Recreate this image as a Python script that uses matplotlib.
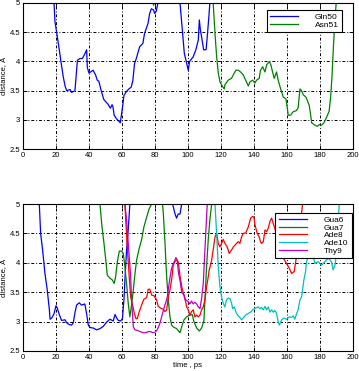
import numpy as np
import matplotlib
matplotlib.use("Agg")
import matplotlib.pyplot as plt

plt.rcParams['font.family'] = ['Liberation Sans', 'DejaVu Sans']

# ---- top panel: Gln50 / Asn51 ----
gln50_t = [0, 10, 15, 18.8, 19.4, 20.4, 22, 23, 24.4, 25.5, 26.5, 28.5, 29.5, 31.5, 32, 33,
           34.5, 36, 37.5, 38.6, 39, 40, 41.5, 42.5, 44, 45, 46, 47.5, 49, 50.5, 51.5, 53,
           54, 54.5, 55.3, 56.7, 58.3, 59, 59.8, 60.6, 61.2, 62.6, 64.2, 65.6, 66.6, 67.6,
           68.7, 70.7, 72.7, 73.7, 75.8, 76.8, 77.8, 79.2, 79.8, 80.8, 81.8, 83, 88, 94,
           95.2, 97.8, 99.2, 100.2, 101, 103.2, 104.8, 106.3, 106.9, 107.5, 108.3, 109.5,
           111, 111.7, 112.5, 113.3, 114.5, 120]
gln50_d = [7.5, 6.8, 5.8, 5.0, 4.68, 4.5, 4.2, 4.0, 3.74, 3.58, 3.5, 3.52, 3.47, 3.5, 3.67, 4.02,
           4.05, 4.05, 4.13, 4.2, 3.9, 3.8, 3.83, 3.85, 3.77, 3.68, 3.66, 3.49, 3.35, 3.3, 3.27, 3.2,
           3.26, 3.23, 3.08, 3.02, 2.97, 2.95, 3.11, 3.27, 3.42, 3.48, 3.53, 3.56, 3.67, 3.96,
           4.05, 4.25, 4.31, 4.48, 4.65, 4.82, 4.9, 4.88, 4.82, 4.86, 5.0, 5.3, 5.8, 5.3,
           5.0, 4.14, 3.97, 3.85, 4.0, 4.08, 4.2, 4.37, 4.71, 4.55, 4.42, 4.2,
           4.2, 4.42, 4.7, 5.0, 5.4, 6.5]

asn51_t = [0, 40, 70, 78.5, 79.2, 80, 90, 105, 114, 115.3, 116.4, 117.4, 118.4, 119.4, 121, 122,
           122.4, 124.4, 126.4, 127.5, 129.1, 130.5, 131.9, 133.5, 135, 136.6, 137.6, 139.2,
           140.6, 141.6, 143.2, 144, 145.3, 146.7, 147.7, 149.3, 150.3, 151.3, 152.3, 153.7,
           154.7, 156.2, 157.8, 159.4, 160.2, 160.8, 162.2, 163.8, 165.8, 166.8, 167.9, 168.9,
           169.9, 171.5, 172.3, 173.5, 174.3, 175, 177, 178.4, 179.6, 181, 182.4, 184, 185.6,
           186.5, 187.3, 188.1, 189.1, 190, 192]
asn51_d = [7.0, 6.5, 5.6, 5.05, 4.96, 5.05, 5.8, 6.0, 5.3, 5.0, 4.48, 4.08, 3.8, 3.65, 3.57, 3.53,
           3.6, 3.68, 3.71, 3.77, 3.85, 3.85, 3.82, 3.77, 3.68, 3.58, 3.65, 3.68,
           3.63, 3.68, 3.71, 3.85, 3.91, 3.82, 3.94, 4.0, 3.94, 3.82, 3.71, 3.82,
           3.68, 3.53, 3.39, 3.36, 3.21, 3.08, 3.08, 3.14, 3.16, 3.21, 3.53, 3.5,
           3.43, 3.39, 3.34, 3.25, 3.1, 2.95, 2.91, 2.89, 2.92, 2.91, 2.95, 3.04, 3.15,
           3.39, 3.73, 4.2, 4.71, 5.05, 5.6]

# ---- bottom panel: Gua6 / Gua7 / Ade8 / Ade10 / Thy9 ----
gua6_t = [0, 9.9, 10.7, 11.9, 13.3, 14.7, 16, 16.4, 17.4, 18.8, 20, 20.8, 22, 23.4, 25.5, 26.5,
          28, 29.5, 30.5, 31.5, 32.5, 34.1, 35.5, 37.5, 38.6, 39.6, 40.6, 42.6, 44.6, 46.7,
          48.7, 50.7, 52.7, 54.7, 55.8, 56.8, 57.8, 59.2, 60.3, 61.2, 61.8, 62.8, 63.8, 64.8,
          66, 80, 90.7, 92.1, 93.1, 94.1, 95.2, 96.2, 98]
gua6_d = [6.5, 5.0, 4.5, 4.22, 3.82, 3.54, 3.2, 3.04, 3.06, 3.13, 3.27, 3.23, 3.12, 3.02, 3.03, 2.98,
          2.95, 2.94, 2.98, 3.15, 3.28, 3.32, 3.28, 3.3, 3.13, 2.94, 2.9, 2.89, 2.86, 2.88,
          2.92, 2.99, 3.04, 3.01, 3.12, 3.06, 3.02, 3.01, 3.05, 3.37, 3.71, 4.22, 4.56, 5.0,
          5.6, 6.0, 5.0, 4.84, 4.76, 4.83, 4.83, 5.0, 5.5]

gua7_t = [30, 46.7, 47.7, 49.1, 50.3, 51.1, 52.7, 54.1, 55.3, 56.2, 57.2, 58.4, 59.8, 60.8, 61.8,
          62.8, 63.8, 64.8, 65.8, 66.9, 67.9, 68.9, 70.5, 71.9, 73.3, 75, 76.5, 78, 81, 84.6,
          85.1, 86.1, 87.1, 88.1, 89.1, 90.1, 91.1, 93.1, 95.2, 96.2, 97.6, 99.2, 101.2, 102.6,
          103.6, 105.3, 106.9, 108.3, 109.7, 110.3, 111.3, 112.3, 113.3, 114.4, 117]
gua7_d = [6.5, 5.0, 4.67, 4.33, 4.02, 3.79, 3.74, 3.71, 3.65, 3.77, 4.02, 4.2, 4.2, 4.16, 3.93,
          3.65, 3.31, 3.08, 3.28, 3.54, 3.82, 4.05, 4.25, 4.39, 4.61, 4.78, 4.92, 5.0, 5.3, 5.0,
          4.83, 4.33, 3.76, 3.37, 3.08, 2.94, 2.91, 2.88, 2.81, 2.91, 3.03, 3.08, 3.11, 3.12,
          3.0, 2.89, 2.84, 2.89, 3.02, 3.37, 3.93, 4.39, 4.73, 5.0, 5.6]

ade8_t = [55, 61.8, 62.4, 63.4, 64.4, 65.3, 66.5, 67.5, 68.5, 69.3, 70.5, 71.9, 73.3, 75, 75.9,
          76.9, 78, 79.4, 81, 82, 83.4, 85, 86.1, 87.1, 88.1, 89.1, 90.1, 91.1, 92.1, 93.1, 94.1,
          95.2, 96.2, 97.2, 98.2, 99.2, 100.2, 101.2, 102.2, 103.2, 104.2, 105.3, 106.3, 107.3,
          108.3, 109.3, 110.3, 111.3, 112.3, 112.9, 113.7, 114.4, 115.3, 116.4, 117.4, 118.4,
          119.4, 120.4, 121.4, 122.4, 123.8, 125, 126.5, 127.5, 129.5, 130.5, 131.5, 132.5,
          133.5, 135, 136.6, 138, 139.2, 140, 140.6, 142, 143.2, 144, 144.6, 145.7, 146.7,
          147.7, 148.7, 149.7, 150.7, 152.5, 154.5, 156.5, 157.8, 159.8, 161.4, 162.8, 164.4,
          165.5, 167.5, 169.5, 172]
ade8_d = [6.0, 5.0, 4.67, 4.2, 3.76, 3.42, 3.28, 3.14, 3.05, 3.05, 3.17, 3.28, 3.38, 3.41, 3.55,
          3.55, 3.45, 3.44, 3.37, 3.26, 3.23, 3.21, 3.17, 3.2, 3.42, 3.54, 3.71, 3.96, 4.02, 4.05, 4.02,
          3.78, 3.6, 3.49, 3.4, 3.25, 3.2, 3.11, 3.17, 3.2, 3.08, 3.11, 3.08, 3.11,
          3.2, 3.25, 3.37, 3.59, 3.76, 3.88, 3.96, 4.05, 4.22, 4.44, 4.5, 4.33,
          4.27, 4.33, 4.4, 4.33, 4.27, 4.16, 4.22, 4.27, 4.33, 4.36, 4.33, 4.44,
          4.5, 4.51, 4.61, 4.76, 4.79, 4.78, 4.65, 4.5, 4.44, 4.36, 4.33, 4.36, 4.56,
          4.53, 4.59, 4.7, 4.76, 4.6, 4.4, 4.2, 4.08, 3.99, 3.91, 3.82, 3.85,
          4.05, 4.5, 5.0, 5.5]

ade10_t = [105, 116.4, 117.4, 118.4, 119.4, 120.4, 121.4, 122.4, 123.4, 124.4, 125.5, 126.5,
           127.1, 128.1, 129.1, 130.1, 131.5, 132.5, 133.5, 134.9, 136.6, 138, 139.6, 141.2,
           142.6, 143.6, 144.6, 145.7, 146.7, 147.7, 148.7, 149.7, 150.7, 151.7, 152.7, 153.7,
           154.7, 155.4, 156.8, 158.2, 159.8, 161.4, 162.8, 163.8, 164.8, 165.8, 166.8, 167.9,
           168.9, 169.5, 170.3, 171.3, 171.9, 174, 176, 177, 179, 181, 183, 185, 187, 188,
           189.1, 190, 191.7, 194]
ade10_d = [6.0, 5.0, 4.5, 3.93, 3.59, 3.42, 3.31, 3.25, 3.37, 3.4, 3.39, 3.31,
           3.22, 3.25, 3.16, 3.11, 3.07, 3.03, 3.06, 3.11, 3.14, 3.16, 3.21, 3.23,
           3.25, 3.22, 3.24, 3.2, 3.26, 3.2, 3.25, 3.16, 3.2, 3.16, 3.19, 3.14,
           3.0, 2.94, 3.03, 3.06, 3.04, 3.08, 3.07, 3.1, 3.04, 3.13, 3.2, 3.37,
           3.42, 3.54, 3.71, 3.85, 4.02, 4.2, 4.1, 3.99, 4.02, 3.96, 4.02, 4.08, 4.02, 3.88,
           3.96, 4.13, 5.0, 5.6]

thy9_t = [55, 61.8, 62.8, 63.4, 64.4, 65.3, 65.8, 66.5, 66.9, 67.9, 69.3, 70.9, 72.9, 74.5, 75.9,
          77.3, 78.6, 80, 81.4, 82.6, 83.6, 84.6, 85.7, 86.7, 87.5, 88.3, 89.1, 89.9, 90.7,
          91.7, 92.7, 93.5, 94.3, 95.2, 96.2, 97.6, 98.2, 99.2, 100.2, 101.2, 102.2, 103.2,
          104.2, 105.3, 106.3, 107.3, 108.3, 109.3, 110.3, 111.3, 111.7, 114]
thy9_d = [6.0, 5.0, 4.73, 4.5, 4.1, 3.76, 3.37, 3.08, 2.91, 2.86, 2.85, 2.83, 2.81, 2.81, 2.83,
          2.83, 2.81, 2.82, 2.86, 2.94, 3.03, 3.14, 3.25, 3.34, 3.42, 3.59, 3.74, 3.88, 3.96,
          4.02, 4.09, 4.05, 3.82, 3.7, 3.5, 3.45, 3.37, 3.36, 3.34, 3.3, 3.35, 3.3,
          3.33, 3.3, 3.25, 3.22, 3.4, 3.65, 4.22, 4.78, 5.0, 6.0]

top_labels = ['Gln50', 'Asn51']
bottom_labels = ['Gua6', 'Gua7', 'Ade8', 'Ade10', 'Thy9']

fig = plt.figure(figsize=(3.59, 3.71), dpi=100)
ax1 = fig.add_axes([0.064, 0.598, 0.919, 0.394])
ax2 = fig.add_axes([0.064, 0.054, 0.919, 0.396])

lw = 0.9
ax1.plot(gln50_t, gln50_d, color=(0, 0, 1), lw=lw, label=top_labels[0])
ax1.plot(asn51_t, asn51_d, color=(0, 0.5, 0), lw=lw, label=top_labels[1])

ax2.plot(gua6_t, gua6_d, color=(0, 0, 1), lw=lw, label=bottom_labels[0])
ax2.plot(gua7_t, gua7_d, color=(0, 0.5, 0), lw=lw, label=bottom_labels[1])
ax2.plot(ade8_t, ade8_d, color=(1, 0, 0), lw=lw, label=bottom_labels[2])
ax2.plot(ade10_t, ade10_d, color=(0, 0.75, 0.75), lw=lw, label=bottom_labels[3])
ax2.plot(thy9_t, thy9_d, color=(0.75, 0, 0.75), lw=lw, label=bottom_labels[4])

for ax in (ax1, ax2):
    ax.set_xlim(0, 200)
    ax.set_ylim(2.5, 5)
    ax.set_xticks(np.arange(0, 201, 20))
    ax.set_yticks([2.5, 3, 3.5, 4, 4.5, 5])
    ax.set_yticklabels(['2.5', '3', '3.5', '4', '4.5', '5'])
    ax.tick_params(direction='in', length=3, width=0.6, labelsize=5.5, pad=2,
                   top=True, right=True)
    ax.grid(True, color='black', linestyle=(0, (3, 2, 1, 2)), linewidth=0.7)
    for s in ax.spines.values():
        s.set_linewidth(0.8)
    ax.set_ylabel('distance, Å', fontsize=5.5, labelpad=1)

ax2.set_xlabel('time , ps', fontsize=5.5, labelpad=1)

# MATLAB-like legends: long line sample, wide gap before the text
leg_kw = dict(fontsize=6, fancybox=False, framealpha=1, edgecolor='black',
              handlelength=3.4, handletextpad=2.0, labelspacing=0.0,
              borderpad=0.4, borderaxespad=0, loc='upper right')
l1 = ax1.legend(bbox_to_anchor=(0.968, 0.955), **leg_kw)
l2 = ax2.legend(bbox_to_anchor=(0.996, 0.942), **leg_kw)
for l in (l1, l2):
    l.get_frame().set_linewidth(0.8)

fig.savefig('out.png', dpi=100)
